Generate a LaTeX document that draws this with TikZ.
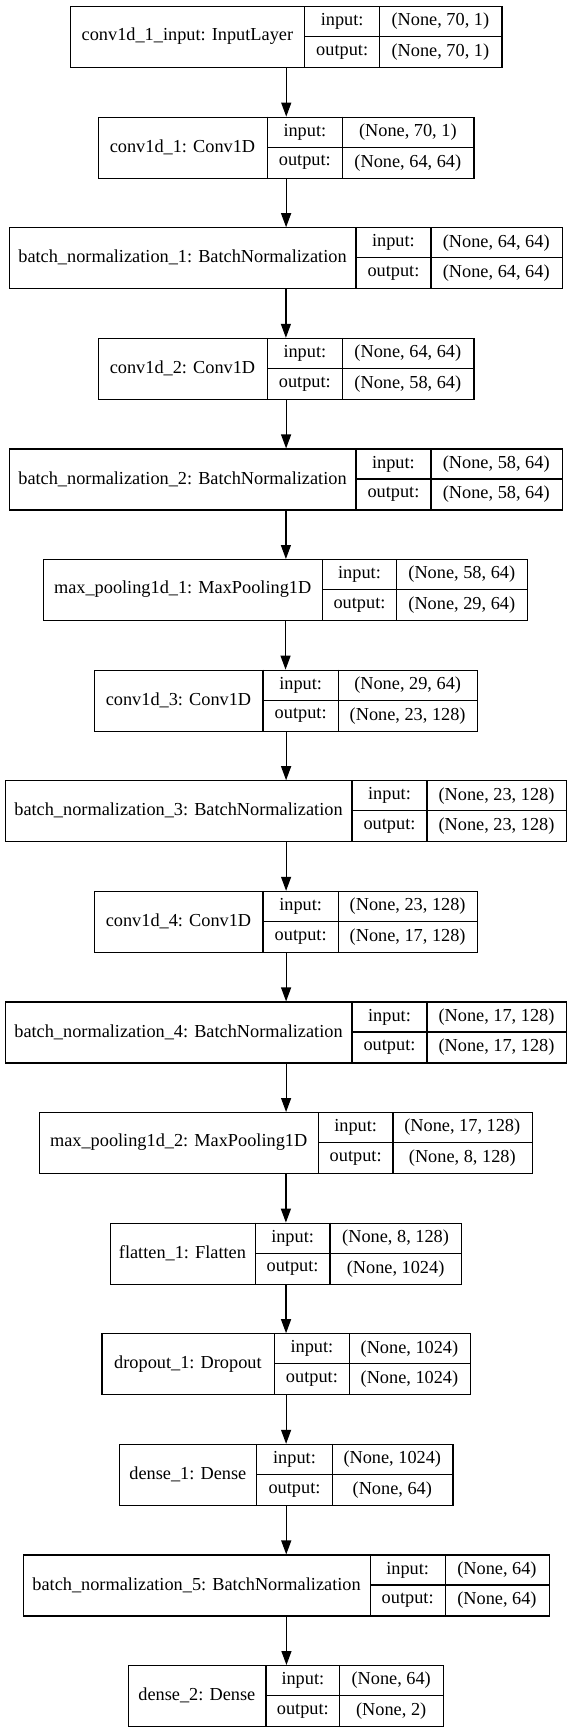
\documentclass[tikz,border=0pt]{standalone}
\usepackage{fontspec}
\setmainfont{Liberation Serif}
\usetikzlibrary{arrows.meta}
\tikzset{
	layerbox/.style = {draw, line width = 1.2pt, inner sep = 0pt, minimum height = 61pt, anchor = north west},
	cell/.style = {font = \fontsize{18.3}{20}\selectfont, inner sep = 0pt},
	rule/.style = {line width = 1.2pt},
	flow/.style = {line width = 1.2pt, -{Triangle[length = 14pt, width = 10pt]}}
}
\begin{document}
\begin{tikzpicture}[x = 1pt, y = -1pt]
	\useasboundingbox (0,0) rectangle (571,1733);
	\foreach \name/\xl/\xr/\xa/\xb/\shin/\shout [count = \k] in {
		{conv1d\_1\_input: InputLayer}/70/501.3/304.8/379.5/{(None, 70, 1)}/{(None, 70, 1)},
		{conv1d\_1: Conv1D}/97.7/473.3/267.3/342.4/{(None, 70, 1)}/{(None, 64, 64)},
		{batch\_normalization\_1: BatchNormalization}/9.1/561.5/355.9/431/{(None, 64, 64)}/{(None, 64, 64)},
		{conv1d\_2: Conv1D}/97.7/473.3/267.3/342.4/{(None, 64, 64)}/{(None, 58, 64)},
		{batch\_normalization\_2: BatchNormalization}/9.1/561.5/355.9/431/{(None, 58, 64)}/{(None, 58, 64)},
		{max\_pooling1d\_1: MaxPooling1D}/43/526.9/322.3/396.7/{(None, 58, 64)}/{(None, 29, 64)},
		{conv1d\_3: Conv1D}/94.1/476.9/262.9/338.4/{(None, 29, 64)}/{(None, 23, 128)},
		{batch\_normalization\_3: BatchNormalization}/5/566/352/427/{(None, 23, 128)}/{(None, 23, 128)},
		{conv1d\_4: Conv1D}/94.1/476.9/262.9/338.4/{(None, 23, 128)}/{(None, 17, 128)},
		{batch\_normalization\_4: BatchNormalization}/5/566/352/427/{(None, 17, 128)}/{(None, 17, 128)},
		{max\_pooling1d\_2: MaxPooling1D}/39/531.6/318.3/393/{(None, 17, 128)}/{(None, 8, 128)},
		{flatten\_1: Flatten}/109.7/461.2/255.2/330/{(None, 8, 128)}/{(None, 1024)},
		{dropout\_1: Dropout}/101.4/469.6/274.5/349.3/{(None, 1024)}/{(None, 1024)},
		{dense\_1: Dense}/119/452.3/256.7/332.3/{(None, 1024)}/{(None, 64)},
		{batch\_normalization\_5: BatchNormalization}/23/548.7/370.1/445.2/{(None, 64)}/{(None, 64)},
		{dense\_2: Dense}/127.7/442.7/266/339.7/{(None, 64)}/{(None, 2)}
	}{
		\pgfmathsetmacro{\ytop}{6 + (\k - 1) * 110.6}
		\pgfmathsetmacro{\boxw}{\xr - \xl}
		\node [layerbox, minimum width = \boxw pt] (L\k) at (\xl,\ytop) {};
		\draw [rule] (\xa,\ytop) -- (\xa,\ytop + 61);
		\draw [rule] (\xb,\ytop) -- (\xb,\ytop + 61);
		\draw [rule] (\xa,\ytop + 30.5) -- (\xr,\ytop + 30.5);
		\node [cell] (N\k) at ({(\xl + \xa) / 2},{\ytop + 30.5}) {\name};
		\node [cell] (I\k) at ({(\xa + \xb) / 2},{\ytop + 15.5}) {input:};
		\node [cell] (O\k) at ({(\xa + \xb) / 2},{\ytop + 46}) {output:};
		\node [cell] (SI\k) at ({(\xb + \xr) / 2},{\ytop + 15.5}) {\shin};
		\node [cell] (SO\k) at ({(\xb + \xr) / 2},{\ytop + 46}) {\shout};
	}
	\foreach \k [count = \j from 2] in {1,...,15}
		\draw [flow] (L\k.south) -- (L\k.south |- L\j.north);
\end{tikzpicture}
\end{document}
